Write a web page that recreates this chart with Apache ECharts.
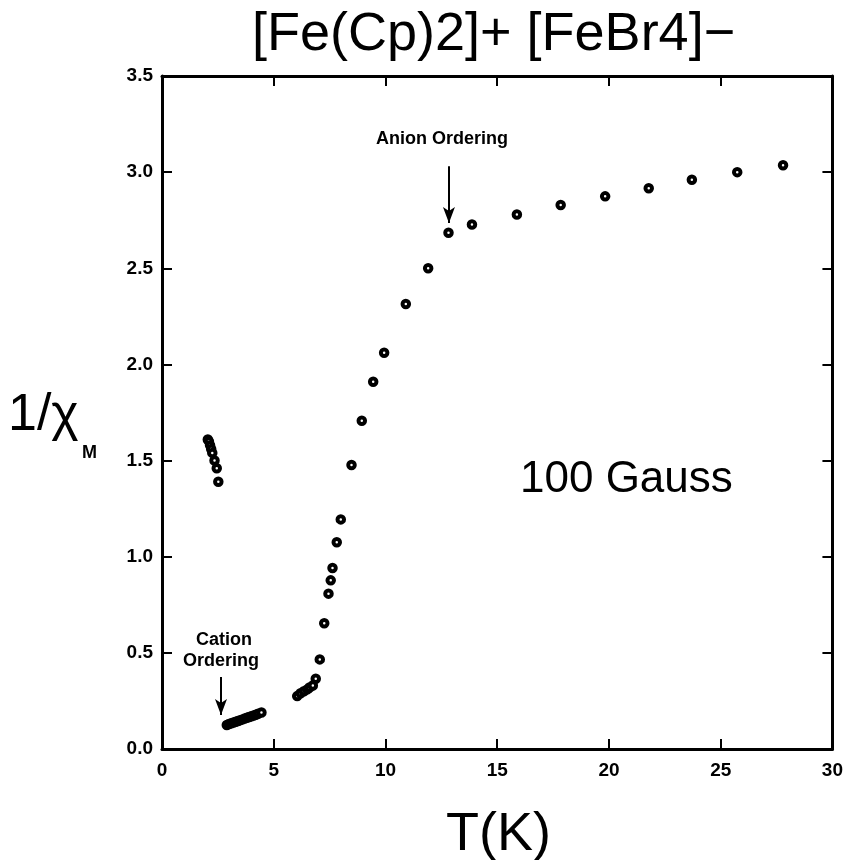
<!DOCTYPE html>
<html>
<head>
<meta charset="utf-8">
<script src="https://cdn.jsdelivr.net/npm/echarts@6/dist/echarts.min.js"></script>
<style>
  html, body { margin: 0; padding: 0; background: #fff; }
  #main { width: 846px; height: 860px; }
</style>
</head>
<body>
<div id="main"></div>
<script>
// T (K) and 1/chi_M
const lowT = [2.05, 2.1, 2.15, 2.2, 2.25, 2.35, 2.45, 2.52];
const lowChi = [1.61, 1.60, 1.58, 1.56, 1.54, 1.50, 1.46, 1.39];

const cationT = [2.9, 3.0, 3.1, 3.2, 3.3, 3.4, 3.5, 3.6, 3.7, 3.8, 3.9, 4.0, 4.1, 4.2, 4.3, 4.45];
const cationChi = [0.125, 0.13, 0.134, 0.138, 0.142, 0.146, 0.15, 0.154, 0.158, 0.162, 0.166, 0.17, 0.174, 0.178, 0.183, 0.19];

const riseT = [6.05, 6.2, 6.35, 6.5, 6.6, 6.75, 6.88, 7.06, 7.26, 7.45, 7.55, 7.63, 7.82, 8.0, 8.48, 8.94, 9.45, 9.94, 10.91, 11.91, 12.82];
const riseChi = [0.275, 0.29, 0.30, 0.31, 0.32, 0.33, 0.365, 0.466, 0.654, 0.808, 0.877, 0.941, 1.075, 1.194, 1.477, 1.707, 1.91, 2.061, 2.314, 2.50, 2.685];

const highT = [13.87, 15.88, 17.84, 19.83, 21.78, 23.71, 25.74, 27.79];
const highChi = [2.728, 2.78, 2.829, 2.874, 2.916, 2.96, 3.0, 3.036];

const xTicks = [0, 5, 10, 15, 20, 25, 30];
const yTicks = [0, 0.5, 1.0, 1.5, 2.0, 2.5, 3.0, 3.5];

// annotation arrows: [T, from, to]
const anionArrow = [12.84, 3.03, 2.735];
const cationArrow = [2.64, 0.374, 0.177];

const points = [];
[[lowT, lowChi], [cationT, cationChi], [riseT, riseChi], [highT, highChi]].forEach(function (s) {
    s[0].forEach(function (t, i) { points.push([t, s[1][i]]); });
});

const myChart = echarts.init(document.getElementById('main'));

const tickFont = {
    color: '#000',
    fontFamily: 'Liberation Sans, Arial, sans-serif',
    fontWeight: 'bold',
    fontSize: 19
};
const axisLine = {show: true, onZero: false, lineStyle: {color: '#000', width: 3}};
const tick = {show: true, inside: true, length: 10, lineStyle: {color: '#000', width: 2}};
const sansFont = '"Liberation Sans", Arial, sans-serif';

function arrowLine(a) {
    return [{coord: [a[0], a[1]]}, {coord: [a[0], a[2]]}];
}

const option = {
    backgroundColor: '#fff',
    animation: false,
    grid: {left: 162, right: 13, top: 76, bottom: 111},
    xAxis: [
        {
            type: 'value', min: xTicks[0], max: xTicks[xTicks.length - 1], interval: 5,
            axisLine: axisLine, axisTick: tick, splitLine: {show: false},
            axisLabel: Object.assign({margin: 12}, tickFont)
        },
        {
            type: 'value', position: 'top', min: 0, max: 30, interval: 5,
            axisLine: axisLine, axisTick: tick, splitLine: {show: false},
            axisLabel: {show: false}
        }
    ],
    yAxis: [
        {
            type: 'value', min: yTicks[0], max: yTicks[yTicks.length - 1], interval: 0.5,
            axisLine: axisLine, axisTick: tick, splitLine: {show: false},
            axisLabel: Object.assign({margin: 9, formatter: function (v) { return v.toFixed(1); }}, tickFont)
        },
        {
            type: 'value', position: 'right', min: 0, max: 3.5, interval: 0.5,
            axisLine: axisLine, axisTick: tick, splitLine: {show: false},
            axisLabel: {show: false}
        }
    ],
    series: [
        {
            type: 'scatter',
            data: points,
            symbol: 'circle',
            symbolSize: 6.5,
            itemStyle: {color: '#fff', borderColor: '#000', borderWidth: 4, opacity: 1},
            markLine: {
                silent: true,
                symbol: ['none', 'arrow'],
                symbolSize: [9, 16],
                label: {show: false},
                lineStyle: {color: '#000', width: 2, type: 'solid'},
                data: [arrowLine(anionArrow), arrowLine(cationArrow)]
            }
        }
    ],
    graphic: [
        {
            type: 'text', left: 252, top: 8,
            style: {text: '[Fe(Cp)2]+ [FeBr4]\u2212', font: '54px ' + sansFont, fill: '#000'}
        },
        {
            type: 'text', left: 446, top: 808,
            style: {text: 'T(K)', font: '54px ' + sansFont, fill: '#000'}
        },
        {
            type: 'text', left: 8, top: 390,
            style: {text: '1/\u03c7', font: '52px ' + sansFont, fill: '#000'}
        },
        {
            type: 'text', left: 82, top: 444,
            style: {text: 'M', font: 'bold 18px ' + sansFont, fill: '#000'}
        },
        {
            type: 'text', left: 520, top: 458,
            style: {text: '100 Gauss', font: '44px ' + sansFont, fill: '#000'}
        },
        {
            type: 'text', left: 376, top: 130,
            style: {text: 'Anion Ordering', font: 'bold 18px ' + sansFont, fill: '#000'}
        },
        {
            type: 'text', left: 196, top: 631,
            style: {text: 'Cation', font: 'bold 18px ' + sansFont, fill: '#000'}
        },
        {
            type: 'text', left: 183, top: 652,
            style: {text: 'Ordering', font: 'bold 18px ' + sansFont, fill: '#000'}
        }
    ]
};
myChart.setOption(option);
</script>
</body>
</html>
